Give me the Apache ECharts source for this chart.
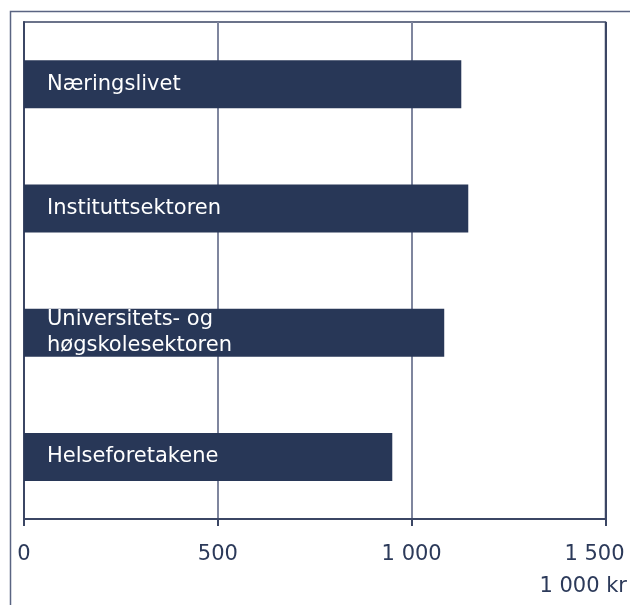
<!DOCTYPE html>
<html>
<head>
<meta charset="utf-8">
<script src="https://cdn.jsdelivr.net/npm/echarts@6/dist/echarts.min.js"></script>
<style>
html,body{margin:0;padding:0;background:#fff;}
#c{width:630px;height:605px;}
</style>
</head>
<body>
<div id="c"></div>
<script>
const categories = ['Næringslivet', 'Instituttsektoren', 'Universitets- og\nhøgskolesektoren', 'Helseforetakene'];
const values = [1128, 1146, 1084, 950];
const xTicks = [0, 500, 1000, 1500];
const unitLabel = '1 000 kr';

const FONT = 'DejaVu Sans';
const TEXT = '#2c3a5a';
const BAR = '#283757';
const FRAME = '#3b4664';
const GRIDC = '#7f869e';
const fmt = v => String(v).replace(/\B(?=(\d{3})+(?!\d))/g, ' ');
const maxTick = xTicks[xTicks.length - 1];

const chart = echarts.init(document.getElementById('c'), null, {renderer: 'canvas'});
chart.setOption({
  animation: false,
  backgroundColor: '#fff',
  grid: {left: 24, right: 24.5, top: 22, bottom: 86, outerBoundsMode: 'none', containLabel: false, show: true, borderColor: FRAME, borderWidth: 1.5, backgroundColor: 'transparent'},
  xAxis: {
    type: 'value', min: xTicks[0], max: maxTick, interval: 500,
    axisLine: {show: true, lineStyle: {color: FRAME, width: 2}},
    axisTick: {show: true, length: 7, lineStyle: {color: FRAME, width: 2}},
    splitLine: {show: true, lineStyle: {color: [FRAME, GRIDC, GRIDC, FRAME], width: 2}},
    axisLabel: {
      color: TEXT, fontSize: 21, fontFamily: FONT, margin: 25,
      formatter: v => v === maxTick ? '{last|' + fmt(v) + '}' : fmt(v),
      rich: {last: {color: TEXT, fontSize: 21, fontFamily: FONT, padding: [0, 22, 0, 0]}}
    }
  },
  yAxis: {
    type: 'category', data: categories, inverse: true,
    axisLine: {show: true, lineStyle: {color: FRAME, width: 2}},
    axisTick: {show: false}, axisLabel: {show: false}, splitLine: {show: false}
  },
  series: [{
    type: 'bar', data: values, barWidth: 48,
    itemStyle: {color: BAR},
    label: {
      show: true, position: 'insideLeft', distance: 23, formatter: '{b}',
      color: '#ffffff', fontSize: 21, fontFamily: FONT, lineHeight: 26
    }
  }],
  graphic: [
    {type: 'rect', shape: {x: 10.5, y: 11.5, width: 640, height: 620}, style: {fill: 'none', stroke: '#5a6482', lineWidth: 1.5}, silent: true},
    {type: 'text', right: 3, top: 576, style: {text: unitLabel, fill: TEXT, fontSize: 21, fontFamily: FONT}}
  ]
});
</script>
</body>
</html>
